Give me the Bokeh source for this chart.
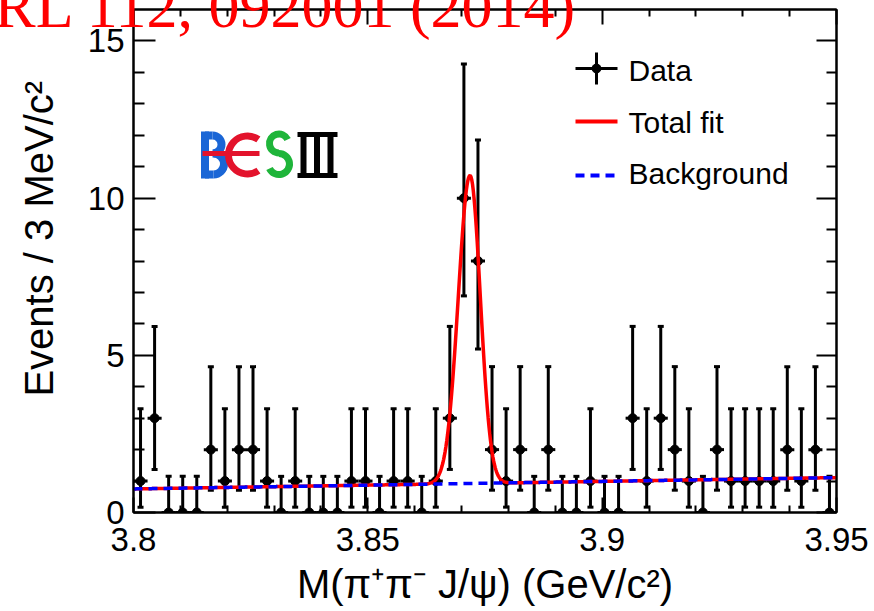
import numpy as np
from bokeh.plotting import figure
from bokeh.models import LinearAxis, FixedTicker, Label, ColumnDataSource, CustomJSTickFormatter, Title
from bokeh.embed import file_html
from bokeh.resources import INLINE

# ---------------- data ----------------
x_min, x_max = 3.80, 3.95          # GeV/c^2
y_min, y_max = 0.0, 16.0
bin_width = 0.003                  # 3 MeV bins
counts = [1, 3, 0, 0, 0, 2, 1, 2, 2, 1,
          0, 1, 0, 0, 0, 1, 1, 0, 1, 1,
          0, 1, 3, 10, 8, 2, 1, 2, 0, 2,
          0, 0, 1, 0, 0, 3, 1, 3, 2, 1,
          0, 2, 1, 1, 1, 1, 2, 1, 2, 0]
# asymmetric (Poisson) error bars by bin content, as drawn
err_count = [0, 1, 2, 3, 8, 10]
err_down = [0.0, 0.83, 1.29, 1.63, 2.80, 3.11]
err_up = [1.15, 2.30, 2.64, 2.92, 3.85, 4.27]

# fit curve parameters
bkg_left, bkg_right = 0.75, 1.11       # linear background at 3.80 and 3.95
peak_mass = 3.8718
peak_height = 9.8
sigma_left, sigma_right = 0.0025, 0.0022

x_major = [3.80, 3.85, 3.90, 3.95]
x_minor = [3.81, 3.82, 3.83, 3.84, 3.86, 3.87, 3.88, 3.89, 3.91, 3.92, 3.93, 3.94]
y_major = [0, 5, 10, 15]
y_minor = [1, 2, 3, 4, 6, 7, 8, 9, 11, 12, 13, 14]

title_text = "PRL 112, 092001 (2014)"
x_title = "M(\u03c0\u207a\u03c0\u207b J/\u03c8) (GeV/c\u00b2)"
y_title = "\u00a0\u00a0\u00a0\u00a0Events / 3 MeV/c\u00b2"
legend_labels = ["Data", "Total fit", "Background"]

# ---------------- layout constants ----------------
W, H = 874, 611
FX0, FX1, FYT, FYB = 133, 836, 9, 512


def px_x(px):
    return x_min + (px - FX0) / (FX1 - FX0) * (x_max - x_min)


def px_y(py):
    return y_min + (FYB - py) / (FYB - FYT) * (y_max - y_min)


SANS = "Liberation Sans"

p = figure(width=W, height=H, x_range=(x_min, x_max), y_range=(y_min, y_max),
           min_border_left=FX0, min_border_right=W - FX1,
           min_border_top=FYT, min_border_bottom=H - FYB,
           toolbar_location=None, output_backend="svg", tools="")
p.xgrid.visible = False
p.ygrid.visible = False
p.background_fill_color = "white"
p.border_fill_color = "white"
p.outline_line_color = "black"
p.outline_line_width = 2

xt = FixedTicker(ticks=x_major, minor_ticks=x_minor)
yt = FixedTicker(ticks=y_major, minor_ticks=y_minor)
fmt = CustomJSTickFormatter(code="return Number(tick.toFixed(3)).toString()")
empty = CustomJSTickFormatter(code="return ''")


def style_axis(ax, major, minor, labels=True, standoff=9):
    ax.axis_line_width = 2
    ax.axis_line_color = "black"
    ax.major_tick_in = major
    ax.major_tick_out = 0
    ax.minor_tick_in = minor
    ax.minor_tick_out = 0
    ax.major_tick_line_width = 2
    ax.minor_tick_line_width = 2
    ax.major_tick_line_color = "black"
    ax.minor_tick_line_color = "black"
    if labels:
        ax.major_label_text_font = SANS
        ax.major_label_text_font_size = "33px"
        ax.major_label_text_color = "black"
        ax.major_label_standoff = standoff
        ax.axis_label_text_font = SANS
        ax.axis_label_text_font_size = "40px"
        ax.axis_label_text_font_style = "normal"
        ax.axis_label_text_color = "black"
    else:
        ax.major_label_text_font_size = "0px"
        ax.major_label_standoff = 0


p.xaxis.ticker = xt
p.xaxis.formatter = fmt
p.yaxis.ticker = yt
style_axis(p.xaxis[0], 15, 7, standoff=15)
style_axis(p.yaxis[0], 22, 11, standoff=9)
p.yaxis.axis_label = y_title
p.yaxis.axis_label_standoff = 24

top = LinearAxis(ticker=xt, formatter=empty)
style_axis(top, 15, 7, labels=False)
p.add_layout(top, "above")
right = LinearAxis(ticker=yt, formatter=empty)
style_axis(right, 20, 10, labels=False)
p.add_layout(right, "right")

# red reference title, overlapping the top of the frame (near-zero-size panel)
p.add_layout(Title(text=title_text, text_font="Liberation Serif", text_font_size="62px",
                   text_font_style="normal", text_color="#ff0000", align="right",
                   offset=259, vertical_align="middle", standoff=-63), "above")

# x-axis title: a label living in the bottom side panel (so it is not clipped to the frame)
p.add_layout(Label(x=(x_min + x_max) / 2, y=px_y(583), text=x_title, text_font=SANS,
                   text_font_size="40px", text_color="black", text_align="center",
                   text_baseline="middle"), "below")

# ---------------- data points ----------------
centers = x_min + bin_width * (np.arange(len(counts)) + 0.5)
n = np.array(counts, dtype=float)
lo = np.array([n_i - err_down[err_count.index(c)] for n_i, c in zip(n, counts)])
hi = np.array([n_i + err_up[err_count.index(c)] for n_i, c in zip(n, counts)])
src = ColumnDataSource(dict(x=centers, n=n, lo=lo, hi=hi,
                            xl=centers - bin_width / 2, xr=centers + bin_width / 2))
p.segment(x0="x", y0="lo", x1="x", y1="hi", source=src, line_color="black", line_width=3)
p.segment(x0="xl", y0="n", x1="xr", y1="n", source=src, line_color="black", line_width=3)
p.scatter(x="x", y="hi", source=src, marker="dash", size=6, line_color="black", line_width=3)
p.scatter(x="x", y="lo", source=src, marker="dash", size=6, line_color="black", line_width=3)
p.scatter(x="x", y="n", source=src, marker="circle", size=9, fill_color="black", line_color="black")

# ---------------- fit curves ----------------
xs = np.linspace(x_min, x_max, 901)
bkg = bkg_left + (bkg_right - bkg_left) * (xs - x_min) / (x_max - x_min)
sig = np.where(xs < peak_mass, sigma_left, sigma_right)
total = bkg + peak_height * np.exp(-0.5 * ((xs - peak_mass) / sig) ** 2)
p.line(xs, total, line_color="#ff0000", line_width=3.5)
p.line(xs, bkg, line_color="#0000ff", line_width=3.5, line_dash="9 6")

# ---------------- legend (drawn by hand) ----------------
lx0, lx1, lxc = px_x(575), px_x(617), px_x(596)
p.segment(x0=[lx0], y0=[px_y(68)], x1=[lx1], y1=[px_y(68)], line_color="black", line_width=3)
p.segment(x0=[lxc], y0=[px_y(52)], x1=[lxc], y1=[px_y(84)], line_color="black", line_width=3)
p.scatter(x=[lxc], y=[px_y(68)], size=9, fill_color="black", line_color="black")
p.segment(x0=[lx0], y0=[px_y(121)], x1=[lx1], y1=[px_y(121)], line_color="#ff0000", line_width=4)
p.line(x=[lx0, px_x(616)], y=[px_y(175)] * 2, line_color="#0000ff", line_width=4, line_dash="9 6")
for lab, py in zip(legend_labels, [70, 122, 173]):
    p.add_layout(Label(x=px_x(628), y=px_y(py), text=lab, text_font=SANS, text_font_size="30px",
                       text_color="black", text_baseline="middle", text_align="left"))

# ---------------- BESIII logo (decoration) ----------------
blue, red, green = "#1a66d6", "#e3132c", "#1fb53a"


def seg(x0, y0, x1, y1, color, w):
    p.segment(x0=[px_x(x0)], y0=[px_y(y0)], x1=[px_x(x1)], y1=[px_y(y1)],
              line_color=color, line_width=w, line_cap="butt")


def arc(cx, cy, r, a0, a1, color, w):
    p.arc(x=[px_x(cx)], y=[px_y(cy)], radius=r, radius_units="screen",
          start_angle=np.deg2rad(a0), end_angle=np.deg2rad(a1),
          line_color=color, line_width=w, line_cap="butt")


# B
seg(204.5, 131, 204.5, 178, blue, 8)
seg(204.5, 135, 212, 135, blue, 8)
seg(204.5, 174, 213, 174, blue, 8)
arc(212, 144, 9, -90, 90, blue, 8)
arc(213, 163.5, 10.5, -90, 90, blue, 8)
# E (epsilon-like) with bar through B
arc(247, 154.5, 19, 55, 305, red, 7)
seg(202, 153, 259, 153, red, 5)
# S
arc(278.5, 143, 9.5, 25, 270, green, 7)
arc(278.5, 163.5, 10.5, -155, 90, green, 7)
# III
for bx in (303, 316.5, 330):
    seg(bx, 135, bx, 174, "black", 6)
seg(297, 134, 337, 134, "black", 5)
seg(297, 175, 337, 175, "black", 5)

open("out.html", "w").write(file_html(p, INLINE))
